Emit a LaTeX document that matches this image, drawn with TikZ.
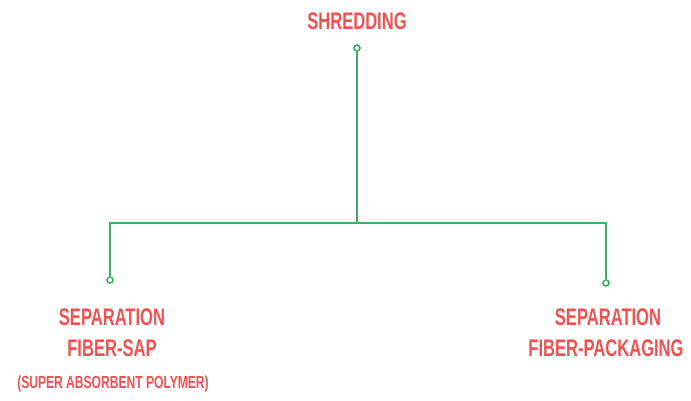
\documentclass[tikz,border=0pt]{standalone}
\usepackage{fontspec}
\setmainfont{Liberation Sans}[FakeStretch=0.69]
\definecolor{lblred}{HTML}{F05252}
\definecolor{lnkgreen}{HTML}{3DAE66}
\begin{document}
\begin{tikzpicture}[x=1pt,y=-1pt,
  lbl/.style={text=lblred,font=\fontsize{24}{28}\selectfont\bfseries,inner sep=0pt,anchor=center},
  sublbl/.style={text=lblred,font=\fontsize{17.5}{20}\selectfont\bfseries,inner sep=0pt,anchor=center},
  dot/.style={circle,draw=lnkgreen,line width=1.6pt,fill=white,minimum size=6pt,inner sep=0pt},
  link/.style={draw=lnkgreen,line width=1.6pt}]
\useasboundingbox[fill=white] (0,0) rectangle (691,401);
\node[lbl] (top) at (357,21) {SHREDDING};
\node[dot] (d0) at (357,48) {};
\coordinate (j) at (357,223);
\coordinate (jl) at (110,223);
\coordinate (jr) at (606,223);
\node[dot] (d1) at (110,280) {};
\node[dot] (d2) at (606,283) {};
\draw[link] (d0) -- (j);
\draw[link] (d1) -- (jl) -- (jr) -- (d2);
\node[lbl] (l1) at (112,317) {SEPARATION};
\node[lbl] (l2) at (112,348) {FIBER-SAP};
\node[sublbl] (l3) at (113,384) {(SUPER ABSORBENT POLYMER)};
\node[lbl] (r1) at (608,317) {SEPARATION};
\node[lbl] (r2) at (606,348) {FIBER-PACKAGING};
\end{tikzpicture}
\end{document}
